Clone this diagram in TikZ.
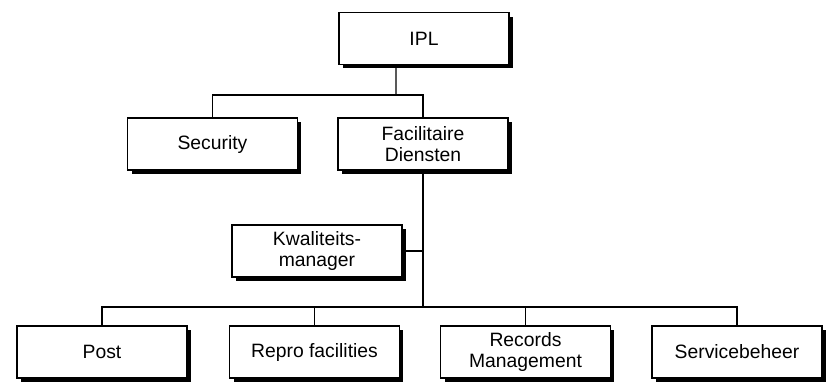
\documentclass[tikz,border=0pt]{standalone}
\usepackage{fontspec}
\setmainfont{Liberation Sans}
\usetikzlibrary{positioning,shadows}

\begin{document}
\begin{tikzpicture}[
  x=0.02cm, y=-0.02cm,
  unit/.style={draw, line width=0.9pt, fill=white, minimum width=3.4cm, minimum height=1.04cm,
    inner sep=0pt, align=center, font=\fontsize{11}{11.8}\selectfont,
    drop shadow={shadow xshift=0.08cm, shadow yshift=-0.08cm, fill=black, opacity=1}},
  link/.style={line width=0.8pt}
]
\useasboundingbox (0,0) rectangle (826,383);

\node[unit] (ipl) at (424,38.5) {IPL};
\node[unit] (sec) at (212.5,144) {Security};
\node[unit] (fac) at (423,144) {Facilitaire\\Diensten};
\node[unit] (kwal) at (317,251) {Kwaliteits-\\manager};
\foreach \n/\x/\t in {post/102/Post,repro/314.5/Repro facilities,rec/525.5/Records\\Management,serv/737/Servicebeheer} {
  \node[unit] (\n) at (\x,352) {\t};
}

\coordinate (topbar) at (396,95);
\coordinate (botbar) at (423,307);

\draw[link] ([xshift=-0.56cm]ipl.south) -- (topbar);
\draw[link] (sec.north) |- (fac.north |- topbar) -- (fac.north);
\draw[link] (fac.south) -- (botbar);
\draw[link] (kwal.east) -- (kwal.east -| botbar);
\draw[link] (post.north) |- (serv.north |- botbar) -- (serv.north);
\foreach \n in {repro,rec} {
  \draw[link] (\n.north) -- (\n.north |- botbar);
}
\end{tikzpicture}
\end{document}
